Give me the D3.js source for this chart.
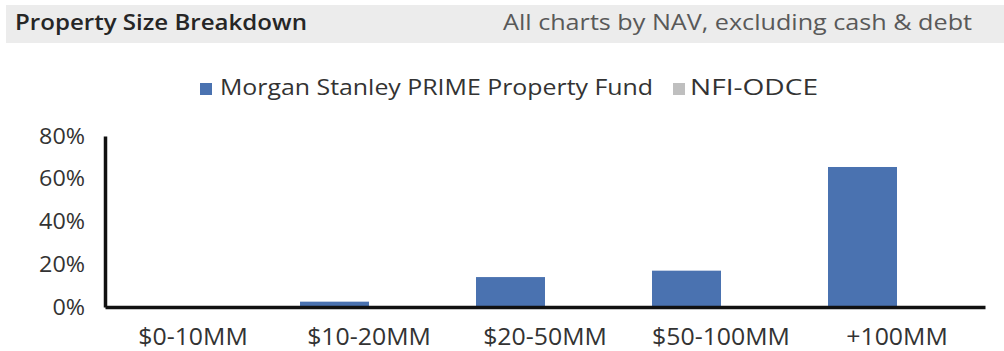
<!DOCTYPE html>
<html><head><meta charset="utf-8">
<script src="https://cdn.jsdelivr.net/npm/d3@7"></script>
<style>
html,body{margin:0;padding:0;background:#fff;}
svg{display:block;font-family:"Open Sans",Lato,sans-serif;}
</style></head>
<body>
<svg id="chart" width="1004" height="351"></svg>
<script>
const title = "Property Size Breakdown";
const subtitle = "All charts by NAV, excluding cash & debt";
const categories = ["$0-10MM", "$10-20MM", "$20-50MM", "$50-100MM", "+100MM"];
const seriesNames = ["Morgan Stanley PRIME Property Fund", "NFI-ODCE"];
const msValues = [0.0, 0.025, 0.14, 0.17, 0.655];
const nfiValues = [0, 0, 0, 0, 0];
const yTicks = [0, 0.2, 0.4, 0.6, 0.8];
const colors = ["#4a72b0", "#bfbfbf"];

(function(){
const svg = d3.select("#chart");
const W = 1004, H = 351;
const pLeft = 105, pRight = 985, pTop = 136, pBottom = 307;

// header band
svg.append("rect").attr("x", 6).attr("y", 5).attr("width", W - 6).attr("height", 38).attr("fill", "#ececec");
function fit(sel, w){ sel.attr("textLength", w).attr("lengthAdjust", "spacingAndGlyphs"); }
function stretch(sel, k){ sel.each(function(){ const w = this.getComputedTextLength(); d3.select(this).call(fit, w * k); }); }
svg.append("text").attr("x", 15).attr("y", 30).attr("font-size", 21).attr("font-weight", 600)
  .attr("fill", "#262626").text(title).call(fit, 292);
svg.append("text").attr("x", 503).attr("y", 30).attr("font-size", 21)
  .attr("fill", "#595959").text(subtitle).call(fit, 469);

// legend
const legendItems = [
  {name: seriesNames[0], sx: 200, tx: 220, tw: 433},
  {name: seriesNames[1], sx: 673, tx: 690, tw: 128}
];
legendItems.forEach((d, i) => {
  svg.append("rect").attr("x", d.sx).attr("y", 83).attr("width", 12).attr("height", 12).attr("fill", colors[i]);
  svg.append("text").attr("x", d.tx).attr("y", 95).attr("font-size", 21).attr("fill", "#333")
    .text(d.name).call(fit, d.tw);
});

const x0 = d3.scaleBand().domain(categories).range([pLeft, pRight]).paddingInner(0.216).paddingOuter(0.108);
const x1 = d3.scaleBand().domain(seriesNames).range([0, x0.bandwidth()]);
const y = d3.scaleLinear().domain([0, 0.8]).range([pBottom, pTop]);

const data = categories.map((c, i) => ({cat: c, vals: [msValues[i], nfiValues[i]]}));
const g = svg.append("g");
data.forEach(d => {
  d.vals.forEach((v, j) => {
    g.append("rect")
      .attr("x", x0(d.cat) + x1(seriesNames[j]))
      .attr("y", y(v))
      .attr("width", x1.bandwidth())
      .attr("height", y(0) - y(v))
      .attr("fill", colors[j]);
  });
});

// y axis
const yAxis = d3.axisLeft(y).tickValues(yTicks).tickFormat(d3.format(".0%")).tickSize(0).tickPadding(20);
const ya = svg.append("g").attr("transform", `translate(${pLeft},0)`).call(yAxis);
ya.select(".domain").attr("stroke", "#111").attr("stroke-width", 3.5);
ya.selectAll("text").attr("font-size", 22).attr("fill", "#333").attr("font-family", "'Open Sans',sans-serif").call(stretch, 1.06);

// x axis
const xAxis = d3.axisBottom(x0).tickSize(0).tickPadding(22);
const xa = svg.append("g").attr("transform", `translate(0,${pBottom})`).call(xAxis);
xa.select(".domain").attr("stroke", "#111").attr("stroke-width", 3.5);
xa.selectAll("text").attr("font-size", 23).attr("fill", "#333").attr("font-family", "'Open Sans',sans-serif").call(stretch, 1.08);
})();
</script>
</body></html>
